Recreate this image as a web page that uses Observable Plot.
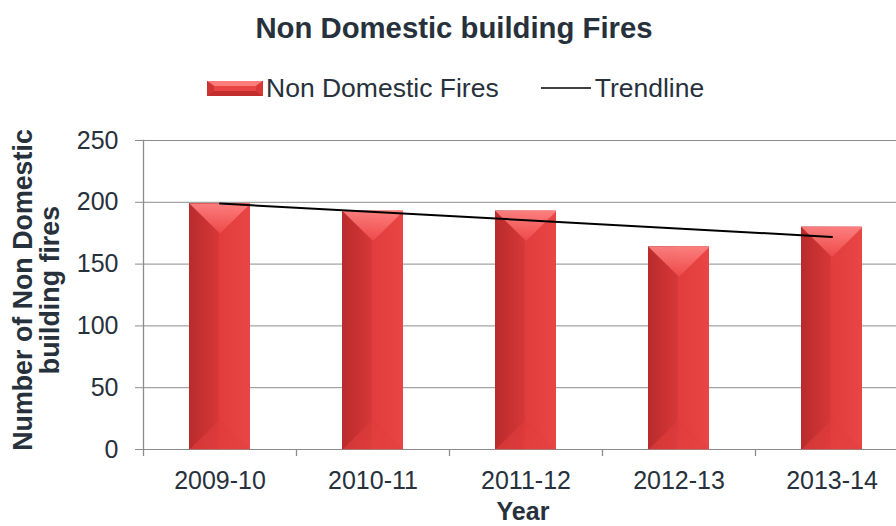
<!DOCTYPE html>
<html><head><meta charset="utf-8">
<script src="https://cdn.jsdelivr.net/npm/d3@7"></script>
<script src="https://cdn.jsdelivr.net/npm/@observablehq/plot@0.6"></script>
<style>
body{margin:0;background:#fff;font-family:"Liberation Sans",Arial,sans-serif;color:#27313c;}
#wrap{position:relative;width:896px;height:526px;overflow:hidden;}
#title{position:absolute;left:0;width:908px;top:11px;text-align:center;font-weight:bold;font-size:29.3px;line-height:34px;}
#legend{position:absolute;top:74px;left:207px;font-size:26.5px;line-height:28px;display:flex;align-items:center;white-space:nowrap;}
#ytitle{position:absolute;left:37px;top:290px;width:420px;transform:translate(-50%,-50%) rotate(-90deg);text-align:center;font-weight:bold;font-size:26.8px;line-height:27px;}
#xtitle{position:absolute;left:0;width:1046px;top:496px;text-align:center;font-weight:bold;font-size:25px;line-height:30px;}
#chart{position:absolute;left:0;top:0;}
</style></head>
<body>
<div id="wrap">
  <div id="chart"></div>
  <div id="title"></div>
  <div id="legend"></div>
  <div id="ytitle"></div>
  <div id="xtitle"></div>
</div>
<script>
const years = ["2009-10", "2010-11", "2011-12", "2012-13", "2013-14"];
const fires = [199, 193, 193, 164, 180];
const trendYears = ["2009-10", "2013-14"];
const trendValues = [199, 172];
const yTicks = [0, 50, 100, 150, 200, 250];
const titleText = "Non Domestic building Fires";
const seriesName = "Non Domestic Fires";
const trendName = "Trendline";
const yLabelLines = ["Number of Non Domestic", "building fires"];
const xLabel = "Year";

const data = years.map((y, i) => ({year: y, fires: fires[i]}));
const trend = trendYears.map((y, i) => ({year: y, v: trendValues[i]}));

document.getElementById("title").textContent = titleText;
document.getElementById("xtitle").textContent = xLabel;
document.getElementById("ytitle").innerHTML = yLabelLines.join("<br>");

const gradDefs = `<linearGradient id="barGrad" x1="0" x2="1" y1="0" y2="0">
  <stop offset="0" stop-color="#b92b2b"/>
  <stop offset="0.48" stop-color="#d63737"/>
  <stop offset="0.5" stop-color="#e23d3d"/>
  <stop offset="1" stop-color="#e94545"/>
</linearGradient>
<linearGradient id="topGrad" x1="0" x2="0" y1="0" y2="1">
  <stop offset="0" stop-color="#ff8585"/>
  <stop offset="1" stop-color="#f04a4a"/>
</linearGradient>
<linearGradient id="botGrad" x1="0" x2="0" y1="0" y2="1">
  <stop offset="0" stop-color="#e03a3a"/>
  <stop offset="1" stop-color="#e64040"/>
</linearGradient>`;

document.getElementById("legend").innerHTML =
  `<svg width="56" height="15" style="margin-right:3px">
   <rect x="0" y="0" width="56" height="15" fill="#e03c3c"/>
   <polygon points="0,0 56,0 49,5 7,5" fill="#ff7c7c"/>
   <polygon points="0,15 56,15 49,10 7,10" fill="#c22e2e"/>
   <polygon points="0,0 7,5 7,10 0,15" fill="#cf3434"/>
   <polygon points="56,0 49,5 49,10 56,15" fill="#d83838"/>
   <rect x="7" y="5" width="42" height="5" fill="#ea4444"/></svg>` +
  `<span>${seriesName}</span>` +
  `<svg width="50" height="16" style="margin-left:42px;margin-right:4px"><line x1="0" x2="50" y1="8" y2="8" stroke="#000" stroke-width="1.5"/></svg>` +
  `<span>${trendName}</span>`;

const step = (908 - 143) / years.length;
const padIn = 0.6;
const bw = step * (1 - padIn);
const bevel = 30;

// bevel shapes drawn as custom dot symbols, anchored at each bar's top / base
const topTri = {draw(ctx) { ctx.moveTo(-bw / 2, 0); ctx.lineTo(bw / 2, 0); ctx.lineTo(0, bevel); ctx.closePath(); }};
const botTri = {draw(ctx) { ctx.moveTo(-bw / 2, 0); ctx.lineTo(bw / 2, 0); ctx.lineTo(0, -bevel); ctx.closePath(); }};

const chart = Plot.plot({
  width: 896,
  height: 526,
  marginTop: 140,
  marginBottom: 77,
  marginLeft: 143,
  marginRight: 0,
  style: {fontFamily: '"Liberation Sans", Arial, sans-serif', fontSize: "25px", color: "#27313c", background: "transparent", overflow: "visible"},
  x: {domain: years, range: [143, 908], paddingInner: padIn, paddingOuter: padIn / 2, label: null},
  y: {domain: [0, 250], label: null},
  marks: [
    Plot.gridY(yTicks, {stroke: "#8c8c8c", strokeOpacity: 1, strokeWidth: 1}),
    Plot.ruleX(years, {x: d => d, y1: 0, y2: 0, dx: -step / 2, insetBottom: -7, stroke: "#8c8c8c", strokeWidth: 1.3}),
    Plot.frame({anchor: "left", stroke: "#8c8c8c", strokeWidth: 1.3}),
    Plot.barY(data, {x: "year", y: "fires", fill: "url(#barGrad)"}),
    Plot.dot(data, {x: "year", y: "fires", symbol: topTri, r: 10, fill: "url(#topGrad)", stroke: "none", fillOpacity: 0.9}),
    Plot.dot(data, {x: "year", y: 0, symbol: botTri, r: 10, fill: "url(#botGrad)", stroke: "none", fillOpacity: 0.55}),
    Plot.line(trend, {x: "year", y: "v", stroke: "#000", strokeWidth: 2}),
    Plot.axisY({ticks: yTicks, tickSize: 8, tickPadding: 17, stroke: "#8c8c8c", label: null}),
    Plot.axisX({tickSize: 0, tickPadding: 22, label: null})
  ]
});
const defs = document.createElementNS("http://www.w3.org/2000/svg", "defs");
defs.innerHTML = gradDefs;
chart.insertBefore(defs, chart.firstChild);
document.getElementById("chart").appendChild(chart);
</script>
</body></html>
